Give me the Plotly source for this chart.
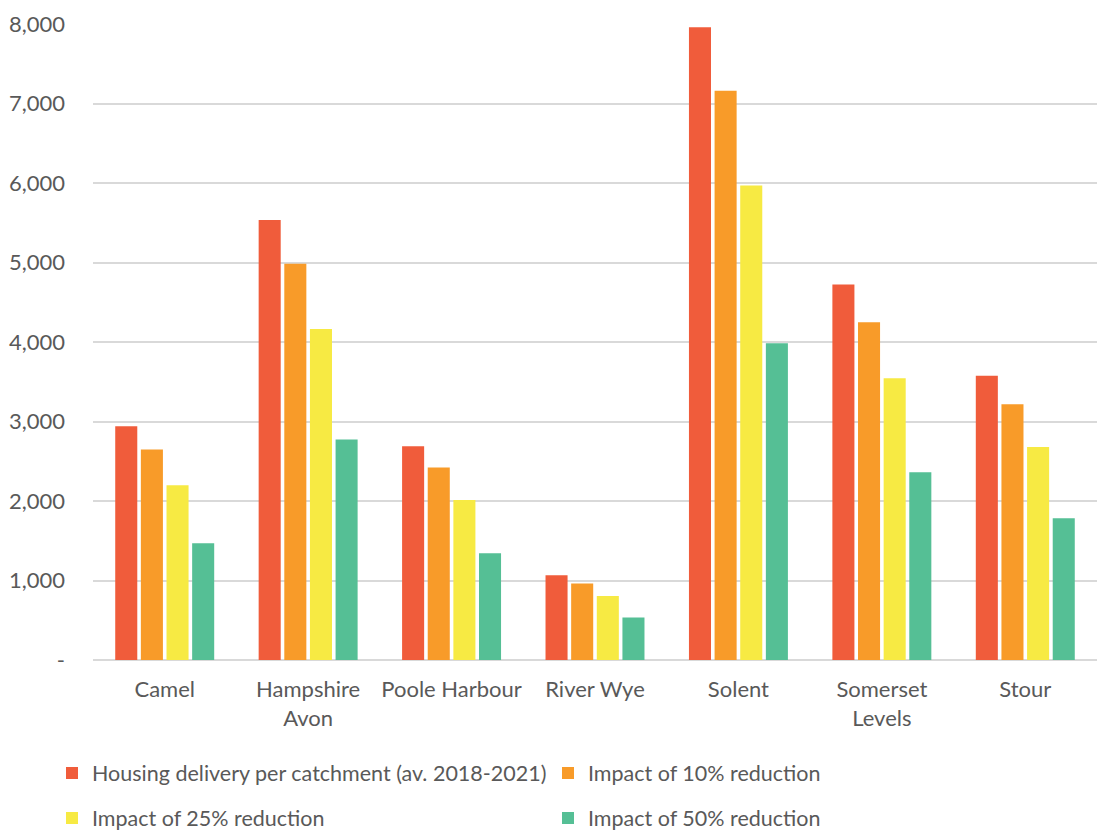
import plotly.graph_objects as go

categories = ["Camel", "Hampshire<br>Avon", "Poole Harbour", "River Wye", "Solent", "Somerset<br>Levels", "Stour"]
series_names = [
    "Housing delivery per catchment (av. 2018-2021)",
    "Impact of 10% reduction",
    "Impact of 25% reduction",
    "Impact of 50% reduction",
]
housing = [2941, 5535, 2688, 1067, 7958, 4724, 3575]
impact10 = [2648, 4983, 2420, 963, 7159, 4250, 3216]
impact25 = [2198, 4165, 2014, 804, 5970, 3543, 2680]
impact50 = [1470, 2775, 1344, 536, 3983, 2362, 1784]
colors = ["#F05C3B", "#F89B29", "#F7EA43", "#55BF95"]
ytick_vals = [0, 1000, 2000, 3000, 4000, 5000, 6000, 7000, 8000]
ytick_text = ["-", "1,000", "2,000", "3,000", "4,000", "5,000", "6,000", "7,000", "8,000"]

FONT = "Lato, sans-serif"
GREY = "#595959"
FS = 22

fig = go.Figure()
all_series = [housing, impact10, impact25, impact50]
legends = ["legend", "legend", "legend2", "legend2"]
for name, vals, col, lg in zip(series_names, all_series, colors, legends):
    fig.add_trace(go.Bar(
        x=categories, y=vals, name=name,
        marker=dict(color=col, line=dict(width=0)),
        legend=lg,
    ))

legend_common = dict(
    orientation="h", xref="container", yref="container",
    x=52 / 1097, xanchor="left", yanchor="middle",
    font=dict(family=FONT, size=21.5, color=GREY),
    entrywidth=451, entrywidthmode="pixels",
    itemwidth=30, bgcolor="rgba(0,0,0,0)", tracegroupgap=0,
)

fig.update_layout(
    width=1097, height=830,
    margin=dict(l=93, r=0, t=24, b=170),
    paper_bgcolor="white", plot_bgcolor="white",
    barmode="group", bargap=0.285, bargroupgap=0.14,
    font=dict(family=FONT, size=FS, color=GREY),
    showlegend=True,
    legend=dict(**legend_common, y=1 - 773 / 830),
    legend2=dict(**legend_common, y=1 - 818 / 830),
    xaxis=dict(
        showgrid=False, showline=False, ticks="", ticklabelstandoff=14,
        tickfont=dict(family=FONT, size=FS, color=GREY),
    ),
    yaxis=dict(
        range=[0, 8000], tickvals=ytick_vals, ticktext=ytick_text,
        showgrid=True, gridcolor="#D9D9D9", gridwidth=1.5,
        zeroline=True, zerolinecolor="#D9D9D9", zerolinewidth=1.5,
        showline=False, ticks="", ticklabelstandoff=27,
        tickfont=dict(family=FONT, size=FS, color=GREY),
    ),
)

fig.write_html("out.html")
